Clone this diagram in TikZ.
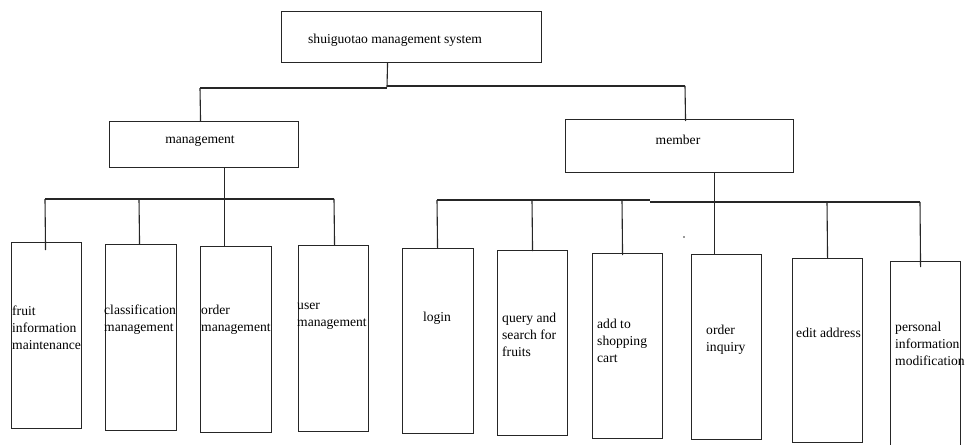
\documentclass[tikz,border=0pt]{standalone}
\usepackage{fontspec}
\setmainfont{Liberation Serif}
\begin{document}
\begin{tikzpicture}[x=1pt,y=-1pt,
  box/.style={draw=black!85, line width=1.1pt, inner sep=0pt, anchor=north west},
  ln/.style={draw=black!85, line width=1.1pt},
  lbl/.style={font=\fontsize{13.6}{17}\selectfont, align=left, inner sep=0pt, anchor=west},
  clbl/.style={font=\fontsize{13.6}{17}\selectfont, inner sep=0pt}]
\fill[white] (0,0) rectangle (968,444);
\useasboundingbox (0,0) rectangle (968,444);

% top level
\node[box, minimum width=260pt, minimum height=51pt] (root) at (281,11) {};
\node[lbl] (rootT) at (308,40) {shuiguotao management system};

% second level
\node[box, minimum width=189pt, minimum height=46pt] (mgmt) at (109,121) {};
\node[clbl] (mgmtT) at (200,141) {management};
\node[box, minimum width=228pt, minimum height=53pt] (memb) at (565,119) {};
\node[clbl] (membT) at (678,140) {member};

% management modules
\node[box, minimum width=70pt, minimum height=186pt] (m1) at (11,242) {};
\node[box, minimum width=71pt, minimum height=186pt] (m2) at (105,244) {};
\node[box, minimum width=71pt, minimum height=186pt] (m3) at (200,246) {};
\node[box, minimum width=70pt, minimum height=186pt] (m4) at (298,245) {};
\node[lbl] (m1T) at (12,328) {fruit\\information\\maintenance};
\node[lbl] (m2T) at (104,319.5) {classification\\management};
\node[lbl] (m3T) at (201,319.5) {order\\management};
\node[lbl] (m4T) at (297,316.5) {user\\management};

% member modules
\node[box, minimum width=71pt, minimum height=185pt] (c1) at (402,248) {};
\node[box, minimum width=70pt, minimum height=185pt] (c2) at (497,250) {};
\node[box, minimum width=70pt, minimum height=185pt] (c3) at (592,253) {};
\node[box, minimum width=70pt, minimum height=185pt] (c4) at (691,254) {};
\node[box, minimum width=70pt, minimum height=184pt] (c5) at (792,258) {};
\node[box, minimum width=70pt, minimum height=190pt] (c6) at (890,261) {};
\node[clbl] (c1T) at (437,318) {login};
\node[lbl] (c2T) at (502,335) {query and\\search for\\fruits};
\node[lbl] (c3T) at (597,341) {add to\\shopping\\cart};
\node[lbl] (c4T) at (706,339.5) {order\\inquiry};
\node[lbl] (c5T) at (796,333) {edit address};
\node[lbl] (c6T) at (895,344) {personal\\information\\modification};

% stray dot
\fill[black!80] (684,237) circle (0.8pt);

% bus junctions
\coordinate (rootJ) at (387,87);
\coordinate (busL) at (200,88);
\coordinate (busLj) at (387,88);
\coordinate (busR) at (685,86);
\coordinate (mbL) at (45,199);
\coordinate (mb2) at (139,199);
\coordinate (mbR) at (334,199);
\coordinate (ubL) at (437,200);
\coordinate (ub2) at (532,200);
\coordinate (ub3) at (622,200);
\coordinate (ubM) at (650,200);
\coordinate (ubN) at (650,202);
\coordinate (ub5) at (827,202);
\coordinate (ubR) at (920,202);

% root to second level
\draw[ln] ([xshift=-24pt]root.south) -- (rootJ);
\draw[ln] (busL) -- (busLj);
\draw[ln] (rootJ |- busR) -- (busR);
\draw[ln] (busL) -- ([xshift=-3.5pt]mgmt.north);
\draw[ln] (busR) -- ([xshift=6pt,yshift=-2pt]memb.north);

% management to its modules
\draw[ln] ([xshift=20.5pt]mgmt.south) -- ([xshift=-11.5pt]m3.north);
\draw[ln] (mbL) -- (mbR);
\draw[ln] (mbL) -- ([xshift=-1pt,yshift=-8pt]m1.north);
\draw[ln] (mb2) -- ([xshift=-1.5pt]m2.north);
\draw[ln] (mbR) -- ([xshift=1pt]m4.north);

% member to its modules
\draw[ln] ([xshift=35pt]memb.south) -- ([xshift=-12pt]c4.north);
\draw[ln] (ubL) -- (ubM);
\draw[ln] (ubN) -- (ubR);
\draw[ln] (ubL) -- ([xshift=-0.5pt]c1.north);
\draw[ln] (ub2) -- ([yshift=-1pt]c2.north);
\draw[ln] (ub3) -- ([xshift=-5pt,yshift=-2pt]c3.north);
\draw[ln] (ub5) -- (c5.north);
\draw[ln] (ubR) -- ([xshift=-5pt,yshift=-6pt]c6.north);
\end{tikzpicture}
\end{document}
